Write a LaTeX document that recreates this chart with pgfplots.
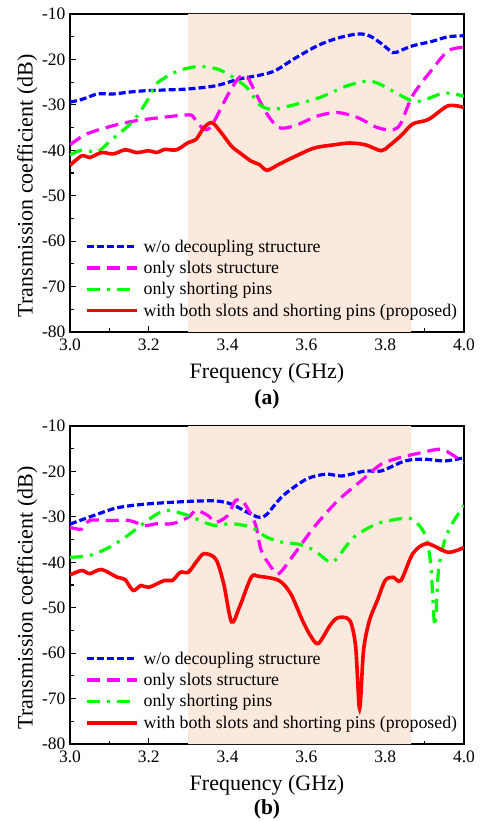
\documentclass[border=0pt]{standalone}
\usepackage{pgfplots}
\pgfplotsset{compat=1.18}
\usepackage{fontspec}
\setmainfont{Liberation Serif}
\definecolor{band}{RGB}{252,233,221}
\definecolor{cblue}{RGB}{0,0,255}
\definecolor{cmag}{RGB}{255,0,255}
\definecolor{cgreen}{RGB}{0,255,0}
\definecolor{cred}{RGB}{255,0,0}

\begin{document}
\begin{tikzpicture}
\useasboundingbox (-70pt,332pt) rectangle (415pt,-489pt);
\pgfplotsset{
  every axis/.append style={
    scale only axis, width=394pt, height=318pt,
    xmin=3.0, xmax=4.0, ymin=-80, ymax=-10,
    xtick={3.0,3.2,...,4.0}, ytick={-80,-70,...,-10},
    minor x tick num=1, minor y tick num=1,
    tick pos=left, tick align=inside,
    major tick length=6pt, minor tick length=3.5pt,
    axis line style={line width=1.3pt},
    every tick/.style={black, line width=1.1pt},
    /pgf/number format/assume math mode=true,
    xticklabel style={yshift=-3pt, /pgf/number format/.cd, fixed, fixed zerofill, precision=1},
    yticklabel style={xshift=-1pt},
    ticklabel style={font=\fontsize{17.5}{20}\selectfont},
    label style={font=\fontsize{22}{26}\selectfont},
    xlabel={Frequency (GHz)},
    ylabel={Transmission coefficient (dB)},
    ylabel style={at={(ticklabel cs:0.46)}, yshift=-2pt},
    xlabel style={yshift=-6pt},
    legend cell align=left,
    legend style={draw=none, fill=none, at={(0.03,0.032)}, anchor=south west,
      font=\fontsize{17.8}{20}\selectfont, row sep=3.5pt,
      /tikz/every odd column/.append style={column sep=3pt}},
    legend image code/.code={\draw[##1] (0pt,0pt) -- (50pt,0pt);},
  },
  sblue/.style={cblue, line width=3.2pt, dash pattern=on 7pt off 3pt, smooth},
  smag/.style={cmag, line width=3.2pt, dash pattern=on 13pt off 7pt, smooth},
  sgreen/.style={cgreen, line width=3.2pt, dash pattern=on 13pt off 7pt on 3pt off 7pt, smooth},
  sred/.style={cred, line width=3.6pt, smooth},
}

% ---------------- (a) ----------------
\begin{axis}[name=ax1, at={(0pt,0pt)}, anchor=south west]
\addplot[fill=band, draw=none, forget plot] coordinates {(3.3,-80) (3.866,-80) (3.866,-10) (3.3,-10)} \closedcycle;
\addplot[sblue] coordinates {
(3.00,-29.4) (3.03,-28.8) (3.07,-27.6) (3.11,-27.6) (3.15,-27.2) (3.19,-26.9)
(3.25,-26.7) (3.30,-26.5) (3.37,-25.8) (3.43,-24.3) (3.48,-23.5) (3.52,-22.5)
(3.57,-19.8) (3.63,-16.9) (3.68,-15.3) (3.73,-14.4) (3.76,-14.8) (3.79,-16.5)
(3.82,-18.5) (3.84,-18.0) (3.87,-17.0) (3.92,-16.0) (3.96,-15.0) (4.00,-14.8)};
\addlegendentry{w/o decoupling structure}
\addplot[smag] coordinates {
(3.00,-38.8) (3.04,-36.5) (3.10,-34.8) (3.16,-33.6) (3.22,-32.9) (3.30,-32.2)
(3.315,-32.9) (3.34,-35.4) (3.36,-34.5) (3.40,-27.9) (3.43,-23.9) (3.45,-23.9)
(3.47,-27.2) (3.50,-32.0) (3.53,-35.0) (3.57,-34.6) (3.63,-32.4) (3.68,-31.7)
(3.73,-32.8) (3.78,-35.0) (3.82,-35.5) (3.84,-34.0) (3.87,-27.9) (3.92,-22.1)
(3.96,-18.1) (4.00,-17.3)};
\addlegendentry{only slots structure}
\addplot[sgreen] coordinates {
(3.00,-41.0) (3.03,-40.0) (3.07,-40.3) (3.10,-38.1) (3.16,-33.6) (3.20,-28.5)
(3.22,-25.3) (3.27,-22.7) (3.32,-21.6) (3.37,-22.0) (3.41,-23.7) (3.45,-26.3)
(3.48,-29.9) (3.51,-31.0) (3.54,-30.6) (3.63,-28.5) (3.70,-25.9) (3.75,-24.8)
(3.78,-25.2) (3.82,-27.0) (3.87,-29.2) (3.90,-28.9) (3.95,-27.4) (4.00,-28.1)};
\addlegendentry{only shorting pins}
\addplot[sred] coordinates {
(3.00,-43.3) (3.03,-41.2) (3.05,-41.6) (3.08,-40.5) (3.11,-40.8) (3.14,-39.9)
(3.17,-40.5) (3.20,-40.1) (3.22,-40.5) (3.24,-39.8) (3.27,-39.9) (3.30,-38.3)
(3.32,-37.6) (3.34,-35.0) (3.36,-33.9) (3.38,-35.7) (3.41,-39.1) (3.43,-40.5)
(3.46,-42.4) (3.48,-43.1) (3.50,-44.4) (3.53,-43.1) (3.57,-41.4) (3.62,-39.5)
(3.67,-38.8) (3.71,-38.4) (3.75,-38.8) (3.79,-40.1) (3.81,-39.0) (3.84,-36.8)
(3.87,-34.2) (3.91,-33.2) (3.96,-30.2) (4.00,-30.6)};
\addlegendentry{with both slots and shorting pins (proposed)}
\end{axis}
\node[font=\bfseries\fontsize{21.5}{25}\selectfont] at (197pt,-67pt) {(a)};

% ---------------- (b) ----------------
\begin{axis}[name=ax2, at={(0pt,-412pt)}, anchor=south west]
\addplot[fill=band, draw=none, forget plot] coordinates {(3.3,-80) (3.866,-80) (3.866,-10) (3.3,-10)} \closedcycle;
\addplot[sblue] coordinates {
(3.00,-31.6) (3.07,-29.4) (3.12,-28.0) (3.19,-27.2) (3.30,-26.6) (3.37,-26.5)
(3.41,-27.2) (3.45,-29.0) (3.48,-30.1) (3.50,-29.4) (3.54,-25.4) (3.60,-21.7)
(3.65,-20.6) (3.69,-21.0) (3.75,-19.9) (3.79,-19.9) (3.85,-17.7) (3.90,-17.3)
(3.95,-17.7) (4.00,-17.0)};
\addlegendentry{w/o decoupling structure}
\addplot[smag] coordinates {
(3.00,-32.3) (3.03,-32.7) (3.05,-30.8) (3.10,-30.8) (3.15,-30.8) (3.19,-31.9)
(3.22,-31.5) (3.26,-31.5) (3.30,-30.1) (3.32,-28.6) (3.35,-29.7) (3.37,-31.2)
(3.40,-29.7) (3.42,-26.4) (3.44,-26.7) (3.47,-31.5) (3.485,-37.3) (3.51,-41.0)
(3.53,-42.5) (3.57,-38.1) (3.62,-32.2) (3.68,-26.4) (3.74,-22.0) (3.79,-18.4)
(3.84,-16.9) (3.89,-15.9) (3.94,-15.1) (3.97,-16.3) (4.00,-18.1)};
\addlegendentry{only slots structure}
\addplot[sgreen] coordinates {
(3.00,-38.9) (3.05,-38.5) (3.10,-36.7) (3.14,-34.5) (3.18,-31.9) (3.22,-29.4)
(3.25,-28.6) (3.30,-29.7) (3.34,-31.2) (3.37,-31.9) (3.41,-31.5) (3.46,-32.3)
(3.50,-34.5) (3.54,-35.6) (3.58,-36.0) (3.62,-37.4) (3.66,-40.0) (3.68,-38.9)
(3.72,-34.5) (3.78,-31.5) (3.84,-30.4) (3.87,-30.6) (3.90,-33.7) (3.915,-40.0)
(3.926,-54.0) (3.935,-42.0) (3.95,-35.5) (3.97,-31.5) (4.00,-27.5)};
\addlegendentry{only shorting pins}
\addplot[sred] coordinates {
(3.00,-42.8) (3.03,-41.8) (3.05,-42.5) (3.08,-41.6) (3.12,-43.3) (3.14,-43.8)
(3.16,-46.2) (3.18,-45.1) (3.20,-45.5) (3.24,-44.0) (3.26,-44.0) (3.28,-42.2)
(3.30,-42.2) (3.32,-40.0) (3.34,-38.1) (3.37,-39.3) (3.39,-44.7) (3.41,-53.1)
(3.43,-49.9) (3.46,-43.3) (3.48,-43.1) (3.53,-44.0) (3.56,-46.9) (3.59,-52.8)
(3.61,-56.1) (3.63,-57.9) (3.66,-53.9) (3.68,-52.2) (3.71,-52.8) (3.725,-58.6)
(3.735,-72.2) (3.745,-59.4) (3.76,-52.8) (3.78,-48.4) (3.80,-44.0) (3.82,-43.3)
(3.84,-44.0) (3.87,-38.1) (3.906,-35.9) (3.96,-37.8) (4.00,-36.7)};
\addlegendentry{with both slots and shorting pins (proposed)}
\end{axis}
\node[font=\bfseries\fontsize{21.5}{25}\selectfont] at (197pt,-477pt) {(b)};
\end{tikzpicture}
\end{document}
